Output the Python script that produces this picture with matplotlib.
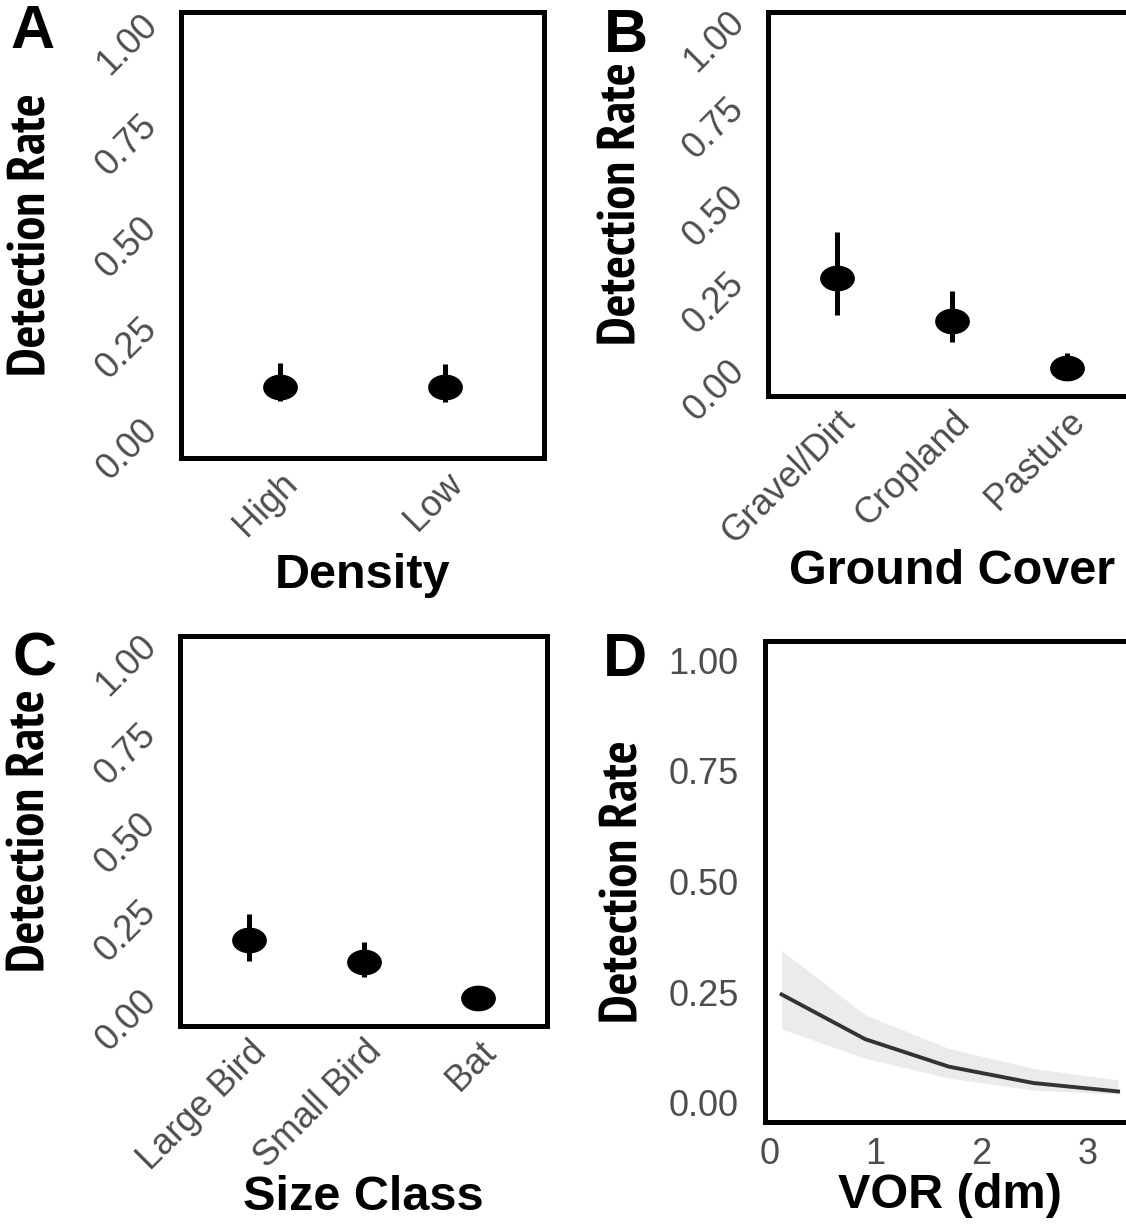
import matplotlib
matplotlib.use("Agg")
import matplotlib.pyplot as plt
from matplotlib import font_manager
from matplotlib.path import Path
from matplotlib.transforms import ScaledTranslation
import numpy as np

# ---------------- data ----------------
density_cats = ["High", "Low"]
density_est = [0.126, 0.125]
density_lo = [0.090, 0.087]
density_hi = [0.185, 0.183]

cover_cats = ["Gravel/Dirt", "Cropland", "Pasture"]
cover_est = [0.288, 0.165, 0.030]
cover_lo = [0.182, 0.105, 0.012]
cover_hi = [0.420, 0.251, 0.073]

size_cats = ["Large Bird", "Small Bird", "Bat"]
size_est = [0.193, 0.130, 0.029]
size_lo = [0.133, 0.088, 0.016]
size_hi = [0.266, 0.187, 0.044]

vor_x = [0.11, 0.90, 1.69, 2.49, 3.29]
vor_est = [0.245, 0.144, 0.082, 0.045, 0.026]
vor_lo = [0.167, 0.101, 0.056, 0.029, 0.020]
vor_hi = [0.344, 0.199, 0.123, 0.078, 0.052]

y_ticks = [0.00, 0.25, 0.50, 0.75, 1.00]
y_ticklabels = ["0.00", "0.25", "0.50", "0.75", "1.00"]
vor_ticks = [0, 1, 2, 3]

# ---------------- fonts ----------------
def has_font(name):
    try:
        font_manager.findfont(font_manager.FontProperties(family=name),
                              fallback_to_default=False)
        return True
    except Exception:
        return False

BASE = "Liberation Sans" if has_font("Liberation Sans") else "DejaVu Sans"
plt.rcParams["font.family"] = [BASE, "DejaVu Sans"]

# look for a narrow bold face for the vertical axis titles
narrow_path = None
for f in font_manager.fontManager.ttflist:
    if "Narrow" in f.name and f.weight in (700, "bold") and f.style == "normal":
        narrow_path = f.fname
        break

W, H = 1126, 1224
DPI = 100
fig = plt.figure(figsize=(W / DPI, H / DPI), dpi=DPI)
fig.patch.set_facecolor("white")


def rect(l, t, r, b):
    return [l / W, 1 - b / H, (r - l) / W, (b - t) / H]


TICK_COLOR = "#4D4D4D"
TICK_FS = 26
TITLE_FS = 35
if narrow_path:
    YTITLE_KW = dict(fontproperties=font_manager.FontProperties(
        fname=narrow_path, size=38.5))
else:
    YTITLE_KW = dict(fontsize=29, fontweight="bold")

# elliptical marker (wider than tall)
theta = np.linspace(0, 2 * np.pi, 60)
ell = Path(np.column_stack([np.cos(theta), 0.73 * np.sin(theta)]), closed=True)


def style_axes(ax, ylabel_px_x, ax_left_px, ax_w_px):
    for s in ax.spines.values():
        s.set_linewidth(3.6)
        s.set_color("black")
    ax.set_facecolor("white")
    ax.tick_params(length=0, colors=TICK_COLOR, labelsize=TICK_FS)
    ax.set_ylabel("Detection Rate", **YTITLE_KW)
    ax.yaxis.set_label_coords((ylabel_px_x - ax_left_px) / ax_w_px, 0.5)
    ax.yaxis.label.set_va("center")


def cat_panel(box, cats, est, lo, hi, xlabel, ylab_x, xlab_y):
    l, t, r, b = box
    ax = fig.add_axes(rect(l, t, r, b))
    pos = np.arange(1, len(cats) + 1)
    ax.vlines(pos, lo, hi, color="black", linewidth=3.6, zorder=2)
    ax.plot(pos, est, linestyle="none", marker=ell, markersize=24,
            color="black", zorder=3)
    ax.set_xlim(0.4, len(cats) + 0.6)
    ax.set_ylim(-0.05, 1.05)
    ax.set_xticks(pos)
    ax.set_xticklabels(cats, rotation=45, ha="right", va="top",
                       rotation_mode="anchor")
    ax.set_yticks(y_ticks)
    ax.set_yticklabels(y_ticklabels, rotation=45, ha="right", va="center")
    style_axes(ax, ylab_x, l, r - l)
    ax.tick_params(axis="x", pad=6)
    ax.tick_params(axis="y", pad=12)
    shift = ScaledTranslation(0, -12 / DPI, fig.dpi_scale_trans)
    for lab in ax.get_yticklabels():
        lab.set_transform(lab.get_transform() + shift)
    ax.set_xlabel(xlabel, fontsize=TITLE_FS, fontweight="bold")
    ax.xaxis.set_label_coords(0.5, -(xlab_y - b) / (b - t))
    ax.xaxis.label.set_va("center")
    return ax


axA = cat_panel((181, 12, 544, 458), density_cats, density_est, density_lo,
                density_hi, "Density", 33, 575)
axB = cat_panel((768, 12, 1136, 396), cover_cats, cover_est, cover_lo,
                cover_hi, "Ground Cover", 623, 572)
axC = cat_panel((180, 636, 547, 1026), size_cats, size_est, size_lo,
                size_hi, "Size Class", 32, 1197)

# Panel D
l, t, r, b = 765, 641, 1135, 1122
axD = fig.add_axes(rect(l, t, r, b))
axD.fill_between(vor_x, vor_lo, vor_hi, color="#EBEBEB", linewidth=0, zorder=1)
axD.plot(vor_x, vor_est, color="#333333", linewidth=2.8, zorder=2)
axD.set_xlim(-0.047, 3.45)
axD.set_ylim(-0.043, 1.043)
axD.set_xticks(vor_ticks)
axD.set_xticklabels([str(v) for v in vor_ticks])
axD.set_yticks(y_ticks)
axD.set_yticklabels(y_ticklabels)
style_axes(axD, 625, l, r - l)
axD.tick_params(axis="x", pad=11)
axD.tick_params(axis="y", pad=19)
axD.set_xlabel("VOR (dm)", fontsize=TITLE_FS, fontweight="bold")
axD.xaxis.set_label_coords(0.5, -(1195 - b) / (b - t))
axD.xaxis.label.set_va("center")

# panel letters
for letter, (px, py) in zip("ABCD", [(33, 32), (626, 36), (35, 660), (625, 660)]):
    fig.text(px / W, 1 - py / H, letter, fontsize=44, fontweight="bold",
             ha="center", va="center")

fig.savefig("out.png", dpi=DPI, facecolor="white")
